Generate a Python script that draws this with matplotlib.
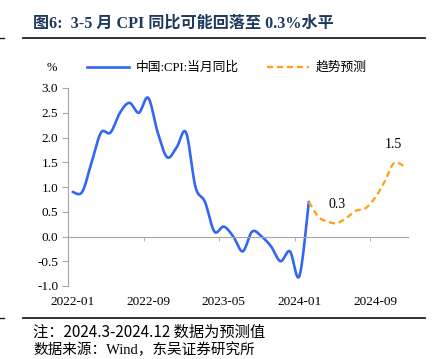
import numpy as np
import matplotlib
matplotlib.use("Agg")
import matplotlib.pyplot as plt
from matplotlib.lines import Line2D

plt.rcParams['font.family'] = ['Liberation Serif', 'Noto Sans CJK SC']

# ---------------------------------------------------------------------
# Data (monthly, 2022-01 .. 2024-12)
# ---------------------------------------------------------------------
months = [f"{y}-{m:02d}" for y in (2022, 2023, 2024) for m in range(1, 13)]
cpi_actual = [0.9, 0.9, 1.5, 2.1, 2.1, 2.5, 2.7, 2.5, 2.8, 2.1, 1.6, 1.8,
              2.1, 1.0, 0.7, 0.1, 0.2, 0.0, -0.3, 0.1, 0.0, -0.2, -0.5, -0.3,
              -0.8, 0.7]
cpi_forecast = [0.7, 0.4, 0.3, 0.27, 0.38, 0.52, 0.57, 0.78, 1.1, 1.48, 1.43]
forecast_start = "2024-02"
xtick_labels = ["2022-01", "2022-09", "2023-05", "2024-01", "2024-09"]
yticks = [-1.0, -0.5, 0.0, 0.5, 1.0, 1.5, 2.0, 2.5, 3.0]
labels_forecast = {"2024-05": "0.3", "2024-11": "1.5"}

blue = '#3366F5'
orange = '#FFA31A'
grey = '#A6A6A6'


def smooth(x, y, n=24):
    # Catmull-Rom style smoothing, like a spreadsheet "smoothed line"
    x = np.asarray(x, float)
    y = np.asarray(y, float)
    px = np.concatenate([[x[0]], x, [x[-1]]])
    py = np.concatenate([[y[0]], y, [y[-1]]])
    xs, ys = [], []
    t = np.linspace(0, 1, n)
    for i in range(1, len(px) - 2):
        p0, p1, p2, p3 = (np.array([px[j], py[j]]) for j in (i - 1, i, i + 1, i + 2))
        c1 = p1 + (p2 - p0) / 6
        c2 = p2 - (p3 - p1) / 6
        pts = ((1 - t)[:, None] ** 3 * p1 + 3 * ((1 - t) ** 2 * t)[:, None] * c1
               + 3 * ((1 - t) * t ** 2)[:, None] * c2 + (t ** 3)[:, None] * p2)
        xs.extend(pts[:, 0])
        ys.extend(pts[:, 1])
    return np.array(xs), np.array(ys)


fig = plt.figure(figsize=(4.35, 3.59), dpi=100)
ax = fig.add_axes([68 / 435, 1 - 286 / 359, 340 / 435, 198 / 359])

xa = np.arange(len(cpi_actual))
i0 = months.index(forecast_start)
xf = np.arange(i0, i0 + len(cpi_forecast))

sx, sy = smooth(xa, cpi_actual)
ax.plot(sx, sy, color=blue, lw=1.9, solid_capstyle='round')
fx, fy = smooth(xf, cpi_forecast)
ax.plot(fx, fy, color=orange, lw=1.7, ls=(0, (2.6, 1.6)))

for m, txt in labels_forecast.items():
    k = months.index(m)
    ax.annotate(txt, (k, cpi_forecast[k - i0]), xytext=(0, 9), textcoords='offset points',
                ha='center', va='bottom', fontsize=10)

ax.set_xlim(-0.5, len(months) - 0.5)
ax.set_ylim(-1.0, 3.0)

ax.set_yticks(yticks)
ax.set_yticklabels([f"{v:.1f}" for v in yticks])
ax.tick_params(axis='y', direction='out', length=4, color=grey, labelsize=9.5, pad=3)

ax.spines['bottom'].set_position(('data', 0))
for s in ('top', 'right'):
    ax.spines[s].set_visible(False)
ax.spines['bottom'].set_color(grey)
ax.spines['left'].set_color(grey)

ax.set_xticks([months.index(l) for l in xtick_labels])
ax.set_xticklabels(xtick_labels)
ax.set_xticks([months.index(l) - 0.5 for l in xtick_labels], minor=True)
ax.tick_params(axis='x', which='major', length=0, labelsize=9.5, pad=43)
ax.tick_params(axis='x', which='minor', direction='out', length=3, color=grey)

# legend and unit above the plot
fig.text(52 / 435, 1 - 68 / 359, "%", fontsize=9, ha='center', va='center')
handles = [Line2D([], [], color=blue, lw=1.9),
           Line2D([], [], color=orange, lw=1.7, ls=(0, (2.6, 1.6)))]
fig.legend(handles, ["中国:CPI:当月同比", "趋势预测"], loc='center',
           bbox_to_anchor=(227 / 435, 1 - 68 / 359), ncol=2, frameon=False,
           fontsize=9.2, handlelength=3.3, handletextpad=0.5, columnspacing=2.2)

# title, rules and notes
fig.text(33 / 435, 1 - 24 / 359, "图6:  3-5 月 CPI 同比可能回落至 0.3%水平",
         fontsize=11.6, fontweight='bold', color='#1F3A5F', ha='left', va='center')
fig.add_artist(Line2D([23 / 435, 425 / 435], [1 - 38 / 359] * 2, color='#222222', lw=1.3))
fig.add_artist(Line2D([0, 4 / 435], [1 - 38 / 359] * 2, color='#222222', lw=1.0))
fig.add_artist(Line2D([23 / 435, 425 / 435], [1 - 318 / 359] * 2, color='#222222', lw=1.3))
fig.add_artist(Line2D([0, 4 / 435], [1 - 318 / 359] * 2, color='#222222', lw=1.0))

fig.text(33 / 435, 1 - 332 / 359, "注：2024.3-2024.12 数据为预测值",
         fontsize=11, family=['Noto Sans CJK SC'], ha='left', va='center')
fig.text(33 / 435, 1 - 350 / 359, "数据来源：Wind，东吴证券研究所",
         fontsize=10.5, ha='left', va='center')

fig.savefig("out.png", dpi=100)
